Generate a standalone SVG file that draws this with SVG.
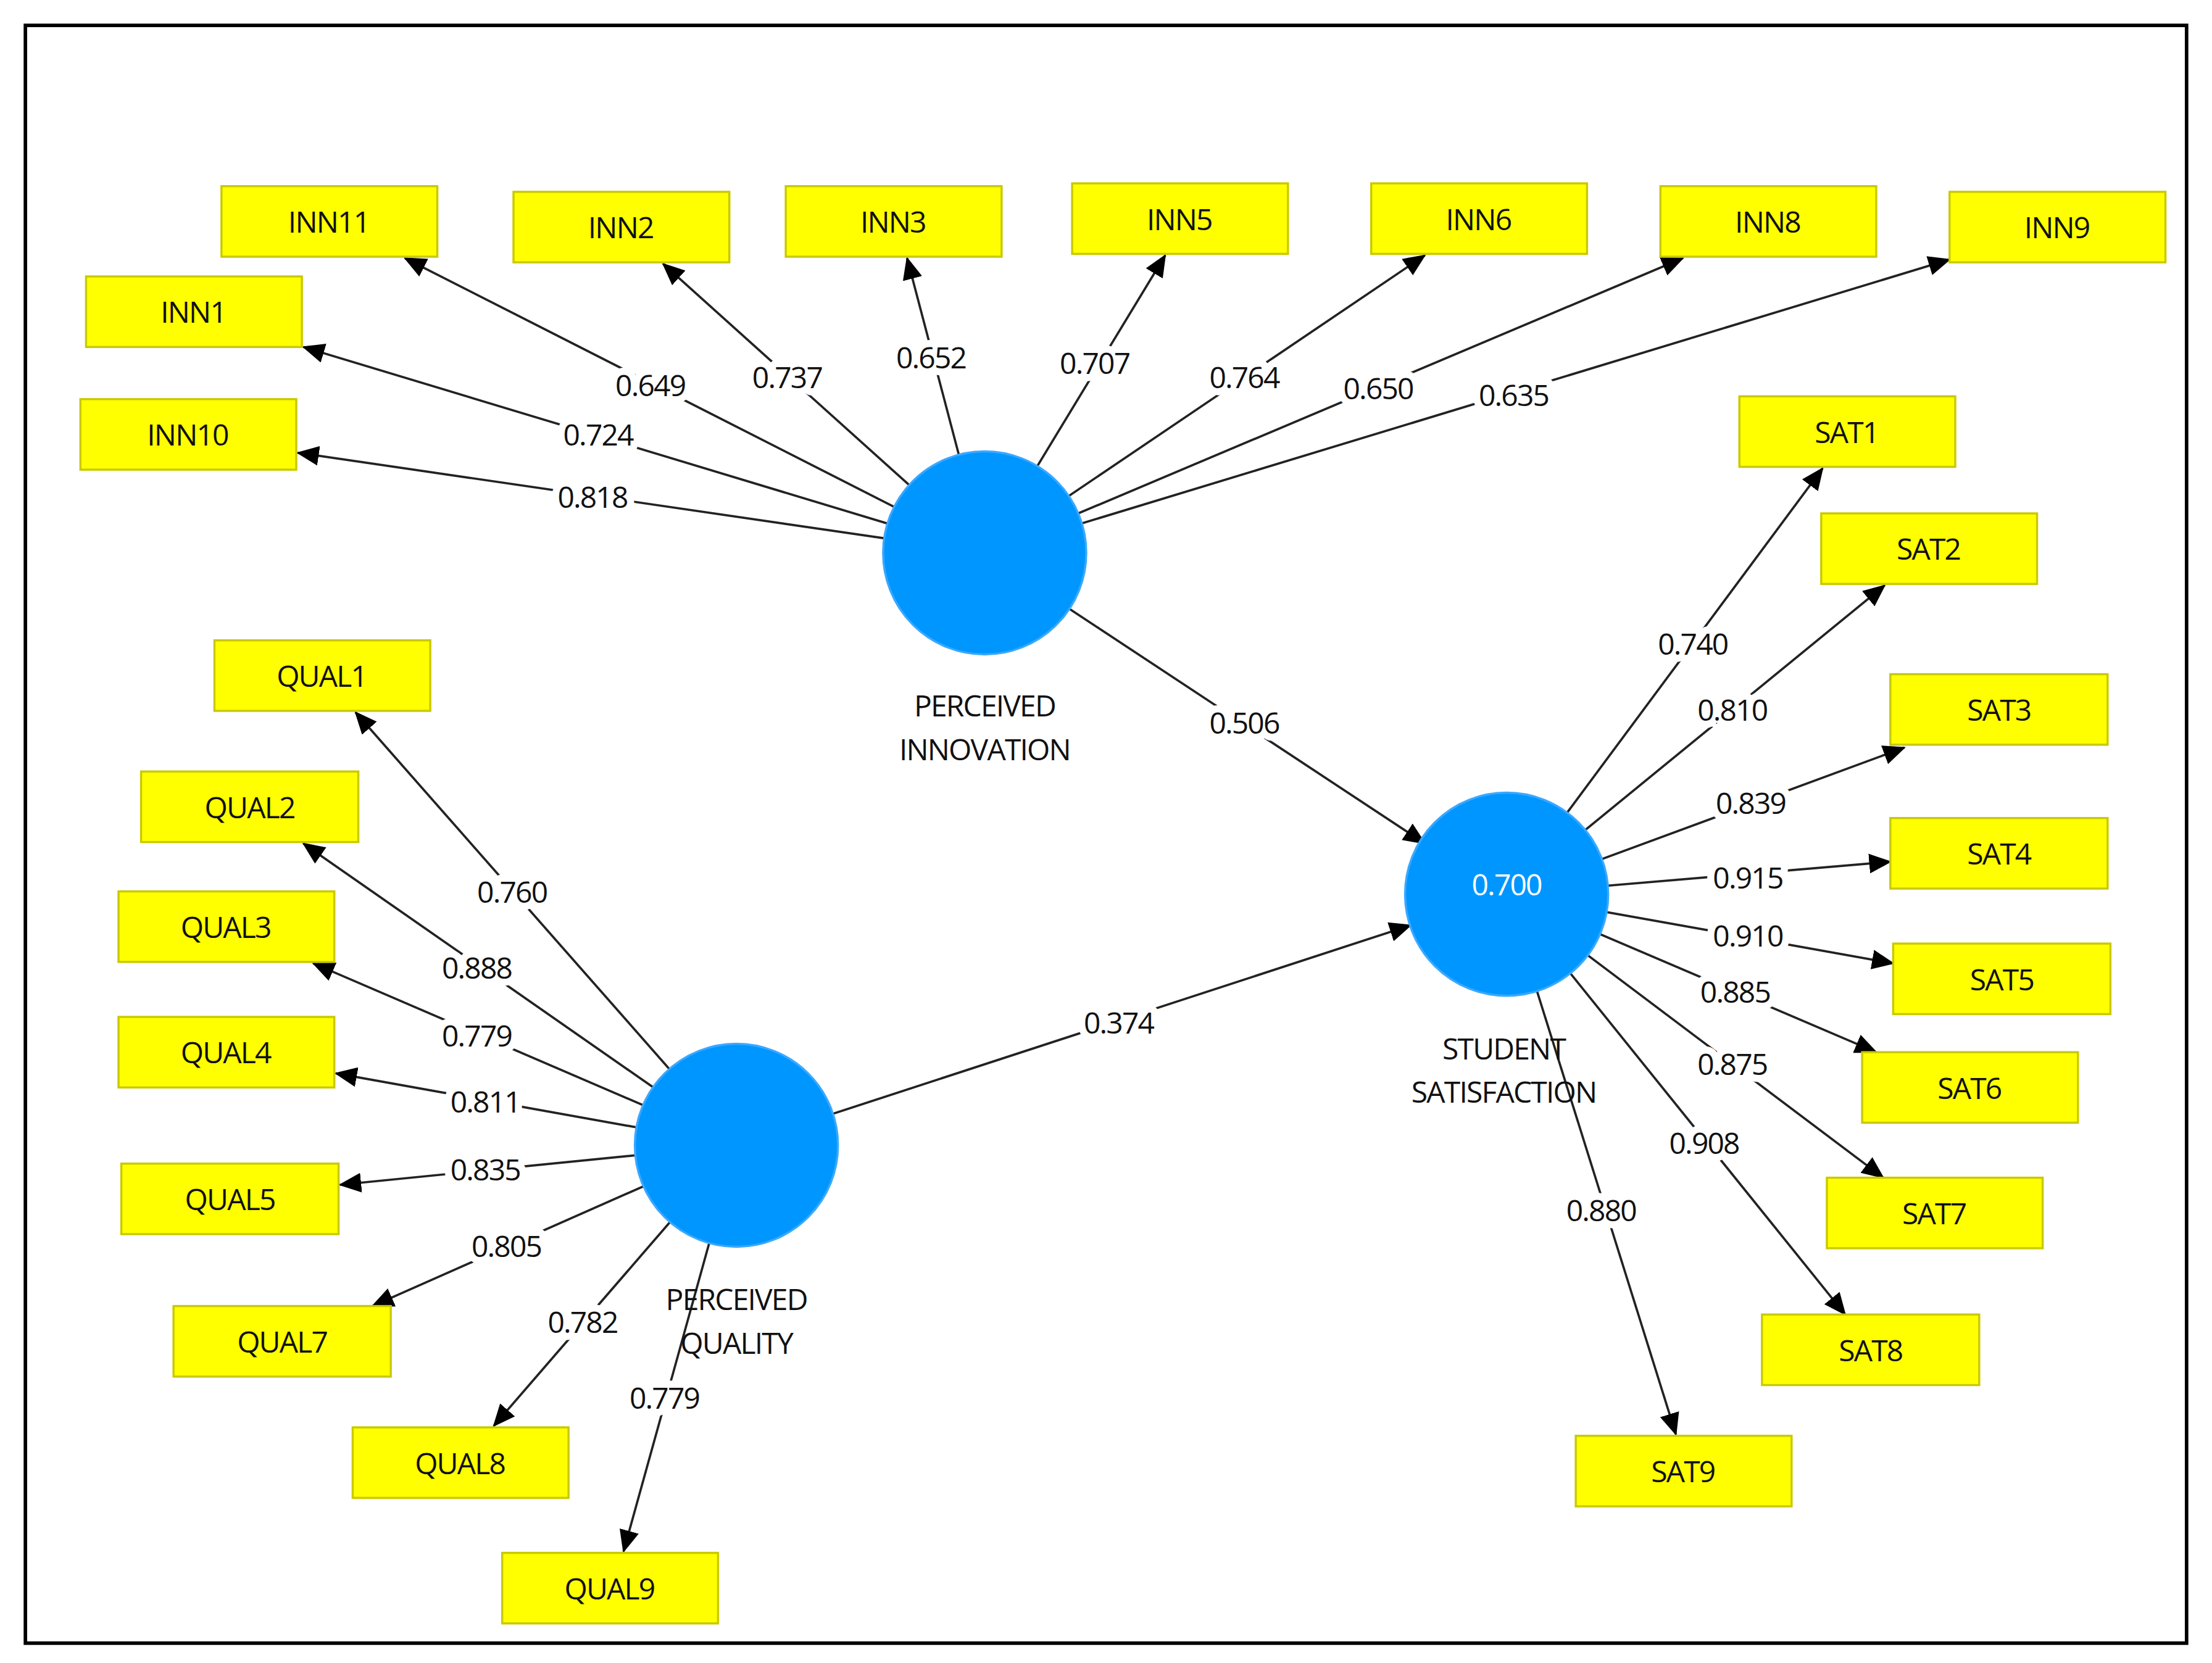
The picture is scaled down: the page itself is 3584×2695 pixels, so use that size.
<svg xmlns="http://www.w3.org/2000/svg" width="3584" height="2695" viewBox="0 0 3584 2695">
<style>
.b{fill:#ffff00;stroke:#c9c900;stroke-width:1.5}
.t{font-family:"Open Sans","Liberation Sans",sans-serif;font-size:21px;text-anchor:middle;fill:#111;letter-spacing:-0.8px}
.l{font-family:"Open Sans","Liberation Sans",sans-serif;font-size:21px;text-anchor:middle;fill:#111;letter-spacing:-0.8px;stroke:#fff;stroke-width:10px;paint-order:stroke;stroke-linejoin:round}
.c{fill:#0096ff;stroke:#3aa8ff;stroke-width:1.5}
.e{stroke:#222;stroke-width:1.6;fill:none;marker-end:url(#a)}
</style>
<defs><marker id="a" markerUnits="userSpaceOnUse" markerWidth="16" markerHeight="14" refX="15" refY="7" orient="auto"><path d="M0,0 L16,7 L0,14 Z" fill="#000"/></marker></defs>
<rect width="3584" height="2695" fill="#fff"/>
<g transform="scale(2.2857)">
<rect x="18" y="18" width="1532" height="1147" fill="none" stroke="#000" stroke-width="2.5"/>
<g id="connectors">
<line class="e" x1="698" y1="392" x2="287" y2="183"/>
<line class="e" x1="698" y1="392" x2="470" y2="187"/>
<line class="e" x1="698" y1="392" x2="643" y2="183"/>
<line class="e" x1="698" y1="392" x2="826" y2="181"/>
<line class="e" x1="698" y1="392" x2="1010" y2="181"/>
<line class="e" x1="698" y1="392" x2="1193" y2="183"/>
<line class="e" x1="698" y1="392" x2="1382" y2="184"/>
<line class="e" x1="698" y1="392" x2="215" y2="246"/>
<line class="e" x1="698" y1="392" x2="211" y2="321"/>
<line class="e" x1="698" y1="392" x2="1010" y2="598"/>
<line class="e" x1="522" y1="812" x2="1000" y2="656"/>
<line class="e" x1="1068" y1="634" x2="1292" y2="332"/>
<line class="e" x1="1068" y1="634" x2="1336" y2="415"/>
<line class="e" x1="1068" y1="634" x2="1350" y2="530"/>
<line class="e" x1="1068" y1="634" x2="1340" y2="611"/>
<line class="e" x1="1068" y1="634" x2="1342" y2="683"/>
<line class="e" x1="1068" y1="634" x2="1330" y2="746"/>
<line class="e" x1="1068" y1="634" x2="1335" y2="835"/>
<line class="e" x1="1068" y1="634" x2="1308" y2="932"/>
<line class="e" x1="1068" y1="634" x2="1188" y2="1017"/>
<line class="e" x1="522" y1="812" x2="252" y2="505"/>
<line class="e" x1="522" y1="812" x2="215" y2="598"/>
<line class="e" x1="522" y1="812" x2="222" y2="683"/>
<line class="e" x1="522" y1="812" x2="238" y2="761"/>
<line class="e" x1="522" y1="812" x2="241" y2="840"/>
<line class="e" x1="522" y1="812" x2="264" y2="926"/>
<line class="e" x1="522" y1="812" x2="350" y2="1011"/>
<line class="e" x1="522" y1="812" x2="442" y2="1100"/>
<text class="l" x="461" y="281">0.649</text>
<text class="l" x="558" y="275">0.737</text>
<text class="l" x="660" y="261">0.652</text>
<text class="l" x="776" y="265">0.707</text>
<text class="l" x="882" y="275">0.764</text>
<text class="l" x="977" y="283">0.650</text>
<text class="l" x="1073" y="288">0.635</text>
<text class="l" x="424" y="316">0.724</text>
<text class="l" x="420" y="360">0.818</text>
<text class="l" x="882" y="520">0.506</text>
<text class="l" x="793" y="733">0.374</text>
<text class="l" x="1200" y="464">0.740</text>
<text class="l" x="1228" y="511">0.810</text>
<text class="l" x="1241" y="577">0.839</text>
<text class="l" x="1239" y="630">0.915</text>
<text class="l" x="1239" y="671">0.910</text>
<text class="l" x="1230" y="711">0.885</text>
<text class="l" x="1228" y="762">0.875</text>
<text class="l" x="1208" y="818">0.908</text>
<text class="l" x="1135" y="866">0.880</text>
<text class="l" x="363" y="640">0.760</text>
<text class="l" x="338" y="694">0.888</text>
<text class="l" x="338" y="742">0.779</text>
<text class="l" x="344" y="789">0.811</text>
<text class="l" x="344" y="837">0.835</text>
<text class="l" x="359" y="891">0.805</text>
<text class="l" x="413" y="945">0.782</text>
<text class="l" x="471" y="999">0.779</text>
</g>
<g id="PI"><circle class="c" cx="698" cy="392" r="72"/><text class="t" x="698" y="508">PERCEIVED</text><text class="t" x="698" y="539">INNOVATION</text></g>
<g id="PQ"><circle class="c" cx="522" cy="812" r="72"/><text class="t" x="522" y="929">PERCEIVED</text><text class="t" x="522" y="960">QUALITY</text></g>
<g id="SS"><circle class="c" cx="1068" cy="634" r="72"/><text class="t" x="1068" y="635" style="fill:#fff">0.700</text><text class="t" x="1066" y="751">STUDENT</text><text class="t" x="1066" y="782">SATISFACTION</text></g>
<g id="INN11"><rect class="b" x="157" y="132" width="153" height="50"/><text class="t" x="233" y="165">INN11</text></g>
<g id="INN2"><rect class="b" x="364" y="136" width="153" height="50"/><text class="t" x="440" y="169">INN2</text></g>
<g id="INN3"><rect class="b" x="557" y="132" width="153" height="50"/><text class="t" x="633" y="165">INN3</text></g>
<g id="INN5"><rect class="b" x="760" y="130" width="153" height="50"/><text class="t" x="836" y="163">INN5</text></g>
<g id="INN6"><rect class="b" x="972" y="130" width="153" height="50"/><text class="t" x="1048" y="163">INN6</text></g>
<g id="INN8"><rect class="b" x="1177" y="132" width="153" height="50"/><text class="t" x="1253" y="165">INN8</text></g>
<g id="INN9"><rect class="b" x="1382" y="136" width="153" height="50"/><text class="t" x="1458" y="169">INN9</text></g>
<g id="INN1"><rect class="b" x="61" y="196" width="153" height="50"/><text class="t" x="137" y="229">INN1</text></g>
<g id="INN10"><rect class="b" x="57" y="283" width="153" height="50"/><text class="t" x="133" y="316">INN10</text></g>
<g id="SAT1"><rect class="b" x="1233" y="281" width="153" height="50"/><text class="t" x="1309" y="314">SAT1</text></g>
<g id="SAT2"><rect class="b" x="1291" y="364" width="153" height="50"/><text class="t" x="1367" y="397">SAT2</text></g>
<g id="SAT3"><rect class="b" x="1340" y="478" width="154" height="50"/><text class="t" x="1417" y="511">SAT3</text></g>
<g id="SAT4"><rect class="b" x="1340" y="580" width="154" height="50"/><text class="t" x="1417" y="613">SAT4</text></g>
<g id="SAT5"><rect class="b" x="1342" y="669" width="154" height="50"/><text class="t" x="1419" y="702">SAT5</text></g>
<g id="SAT6"><rect class="b" x="1320" y="746" width="153" height="50"/><text class="t" x="1396" y="779">SAT6</text></g>
<g id="SAT7"><rect class="b" x="1295" y="835" width="153" height="50"/><text class="t" x="1371" y="868">SAT7</text></g>
<g id="SAT8"><rect class="b" x="1249" y="932" width="154" height="50"/><text class="t" x="1326" y="965">SAT8</text></g>
<g id="SAT9"><rect class="b" x="1117" y="1018" width="153" height="50"/><text class="t" x="1193" y="1051">SAT9</text></g>
<g id="QUAL1"><rect class="b" x="152" y="454" width="153" height="50"/><text class="t" x="228" y="487">QUAL1</text></g>
<g id="QUAL2"><rect class="b" x="100" y="547" width="154" height="50"/><text class="t" x="177" y="580">QUAL2</text></g>
<g id="QUAL3"><rect class="b" x="84" y="632" width="153" height="50"/><text class="t" x="160" y="665">QUAL3</text></g>
<g id="QUAL4"><rect class="b" x="84" y="721" width="153" height="50"/><text class="t" x="160" y="754">QUAL4</text></g>
<g id="QUAL5"><rect class="b" x="86" y="825" width="154" height="50"/><text class="t" x="163" y="858">QUAL5</text></g>
<g id="QUAL7"><rect class="b" x="123" y="926" width="154" height="50"/><text class="t" x="200" y="959">QUAL7</text></g>
<g id="QUAL8"><rect class="b" x="250" y="1012" width="153" height="50"/><text class="t" x="326" y="1045">QUAL8</text></g>
<g id="QUAL9"><rect class="b" x="356" y="1101" width="153" height="50"/><text class="t" x="432" y="1134">QUAL9</text></g>
</g>
</svg>
